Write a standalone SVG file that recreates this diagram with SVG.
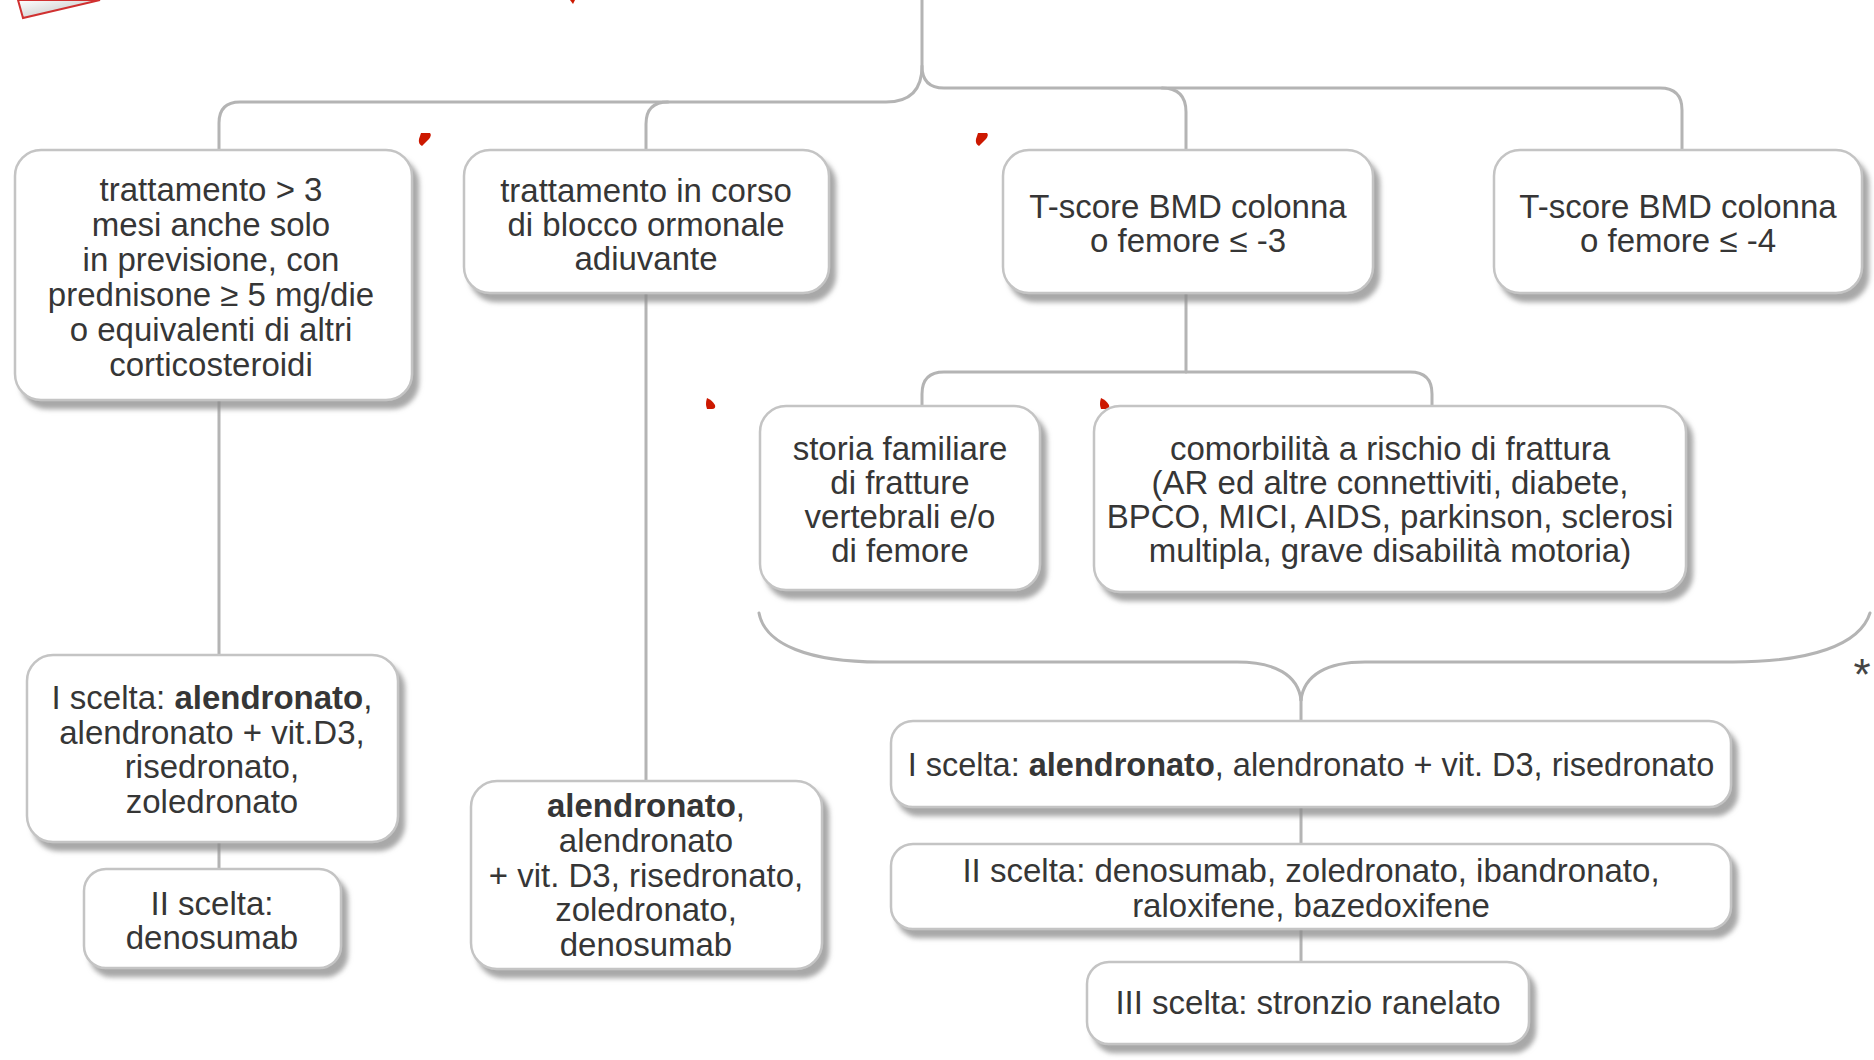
<svg xmlns="http://www.w3.org/2000/svg" width="1874" height="1060" viewBox="0 0 1874 1060">
<defs>
<filter id="sh" x="-10%" y="-10%" width="125%" height="130%">
<feDropShadow dx="6" dy="8" stdDeviation="2.5" flood-color="#8a8a8a" flood-opacity="0.75"/>
</filter>
<linearGradient id="ic" x1="0" y1="0" x2="1" y2="1">
<stop offset="0" stop-color="#ffffff"/><stop offset="1" stop-color="#b8b8b8"/>
</linearGradient>
<style>
.box{fill:#ffffff;stroke:#c4c4c4;stroke-width:2.5;filter:url(#sh)}
.t{font-family:"Liberation Sans",Arial,sans-serif;font-size:33px;fill:#363636;text-anchor:middle}
.b{font-weight:bold}
.c{fill:none;stroke:#b4b4b4;stroke-width:3;stroke-linecap:round}
.red{fill:#cc1800}
</style>
</defs>
<rect width="1874" height="1060" fill="#ffffff"/>

<polygon points="18,0 100,0 23,18" fill="url(#ic)" stroke="#d03030" stroke-width="2"/>
<path class="red" d="M570,0 L575,0 L573,4 Z"/>

<g id="connectors">
<path class="c" d="M922,0 V66 Q922,102 886,102 H240 Q219,102 219,123 V150"/>
<path class="c" d="M668,102 Q646,102 646,124 V150"/>
<path class="c" d="M922,66 Q922,88 944,88 H1660 Q1682,88 1682,110 V150"/>
<path class="c" d="M1162,88 Q1186,88 1186,112 V150"/>
<path class="c" d="M1186,293 V372"/>
<path class="c" d="M922,406 V394 Q922,372 944,372 H1410 Q1432,372 1432,394 V406"/>
<path class="c" d="M219,400 V655"/>
<path class="c" d="M219,842 V869"/>
<path class="c" d="M646,293 V781"/>
<path class="c" d="M759,613 C765,645 810,662 880,662 H1237 C1275,662 1298,675 1301,700"/>
<path class="c" d="M1870,613 C1860,645 1810,662 1733,662 H1365 C1327,662 1304,675 1301,700"/>
<path class="c" d="M1301,698 V721"/>
<path class="c" d="M1301,807 V844"/>
<path class="c" d="M1301,929 V962"/>
</g>

<g id="marks">
<path class="red" d="M421,133 L430,133 Q432,135 429,139 L422,146 Q418,144 419,139 Z"/>
<path class="red" d="M978,133 L987,133 Q989,135 986,139 L979,146 Q975,144 976,139 Z"/>
<path class="red" d="M707,398 Q712,400 715,405 Q716,409 712,409 L707,409 Q705,404 707,398 Z"/>
<path class="red" d="M1101,398 Q1106,400 1109,405 Q1110,409 1106,409 L1101,409 Q1099,404 1101,398 Z"/>
</g>

<g id="n1">
<rect class="box" x="15" y="150" width="397" height="250" rx="26"/>
<text class="t"><tspan x="211" y="201">trattamento &gt; 3</tspan><tspan x="211" y="236">mesi anche solo</tspan><tspan x="211" y="271">in previsione, con</tspan><tspan x="211" y="306">prednisone ≥ 5 mg/die</tspan><tspan x="211" y="341">o equivalenti di altri</tspan><tspan x="211" y="376">corticosteroidi</tspan></text>
</g>
<g id="n2">
<rect class="box" x="464" y="150" width="365" height="143" rx="26"/>
<text class="t"><tspan x="646" y="202">trattamento in corso</tspan><tspan x="646" y="236">di blocco ormonale</tspan><tspan x="646" y="270">adiuvante</tspan></text>
</g>
<g id="n3">
<rect class="box" x="1003" y="150" width="370" height="143" rx="26"/>
<text class="t"><tspan x="1188" y="218">T-score BMD colonna</tspan><tspan x="1188" y="252">o femore ≤ -3</tspan></text>
</g>
<g id="n4">
<rect class="box" x="1494" y="150" width="368" height="143" rx="26"/>
<text class="t"><tspan x="1678" y="218">T-score BMD colonna</tspan><tspan x="1678" y="252">o femore ≤ -4</tspan></text>
</g>
<g id="n5">
<rect class="box" x="760" y="406" width="280" height="184" rx="26"/>
<text class="t"><tspan x="900" y="460">storia familiare</tspan><tspan x="900" y="494">di fratture</tspan><tspan x="900" y="528">vertebrali e/o</tspan><tspan x="900" y="562">di femore</tspan></text>
</g>
<g id="n6">
<rect class="box" x="1094" y="406" width="592" height="186" rx="26"/>
<text class="t"><tspan x="1390" y="460">comorbilità a rischio di frattura</tspan><tspan x="1390" y="494">(AR ed altre connettiviti, diabete,</tspan><tspan x="1390" y="528">BPCO, MICI, AIDS, parkinson, sclerosi</tspan><tspan x="1390" y="562">multipla, grave disabilità motoria)</tspan></text>
</g>
<g id="n7">
<rect class="box" x="27" y="655" width="371" height="187" rx="26"/>
<text class="t"><tspan x="212" y="709">I scelta: <tspan class="b">alendronato</tspan>,</tspan><tspan x="212" y="744">alendronato + vit.D3,</tspan><tspan x="212" y="778">risedronato,</tspan><tspan x="212" y="813">zoledronato</tspan></text>
</g>
<g id="n8">
<rect class="box" x="84" y="869" width="257" height="99" rx="22"/>
<text class="t"><tspan x="212" y="915">II scelta:</tspan><tspan x="212" y="949">denosumab</tspan></text>
</g>
<g id="n9">
<rect class="box" x="471" y="781" width="351" height="188" rx="26"/>
<text class="t"><tspan x="646" y="817"><tspan class="b">alendronato</tspan>,</tspan><tspan x="646" y="852">alendronato</tspan><tspan x="646" y="887">+ vit. D3, risedronato,</tspan><tspan x="646" y="921">zoledronato,</tspan><tspan x="646" y="956">denosumab</tspan></text>
</g>
<g id="n10">
<rect class="box" x="891" y="721" width="840" height="86" rx="22"/>
<text class="t" style="font-size:32.5px" x="1311" y="776">I scelta: <tspan class="b">alendronato</tspan>, alendronato + vit. D3, risedronato</text>
</g>
<g id="n11">
<rect class="box" x="891" y="844" width="840" height="85" rx="22"/>
<text class="t"><tspan x="1311" y="882">II scelta: denosumab, zoledronato, ibandronato,</tspan><tspan x="1311" y="917">raloxifene, bazedoxifene</tspan></text>
</g>
<g id="n12">
<rect class="box" x="1087" y="962" width="442" height="82" rx="22"/>
<text class="t" x="1308" y="1014">III scelta: stronzio ranelato</text>
</g>
<text class="t" style="font-size:44px;fill:#444" x="1862" y="690">*</text>
</svg>
